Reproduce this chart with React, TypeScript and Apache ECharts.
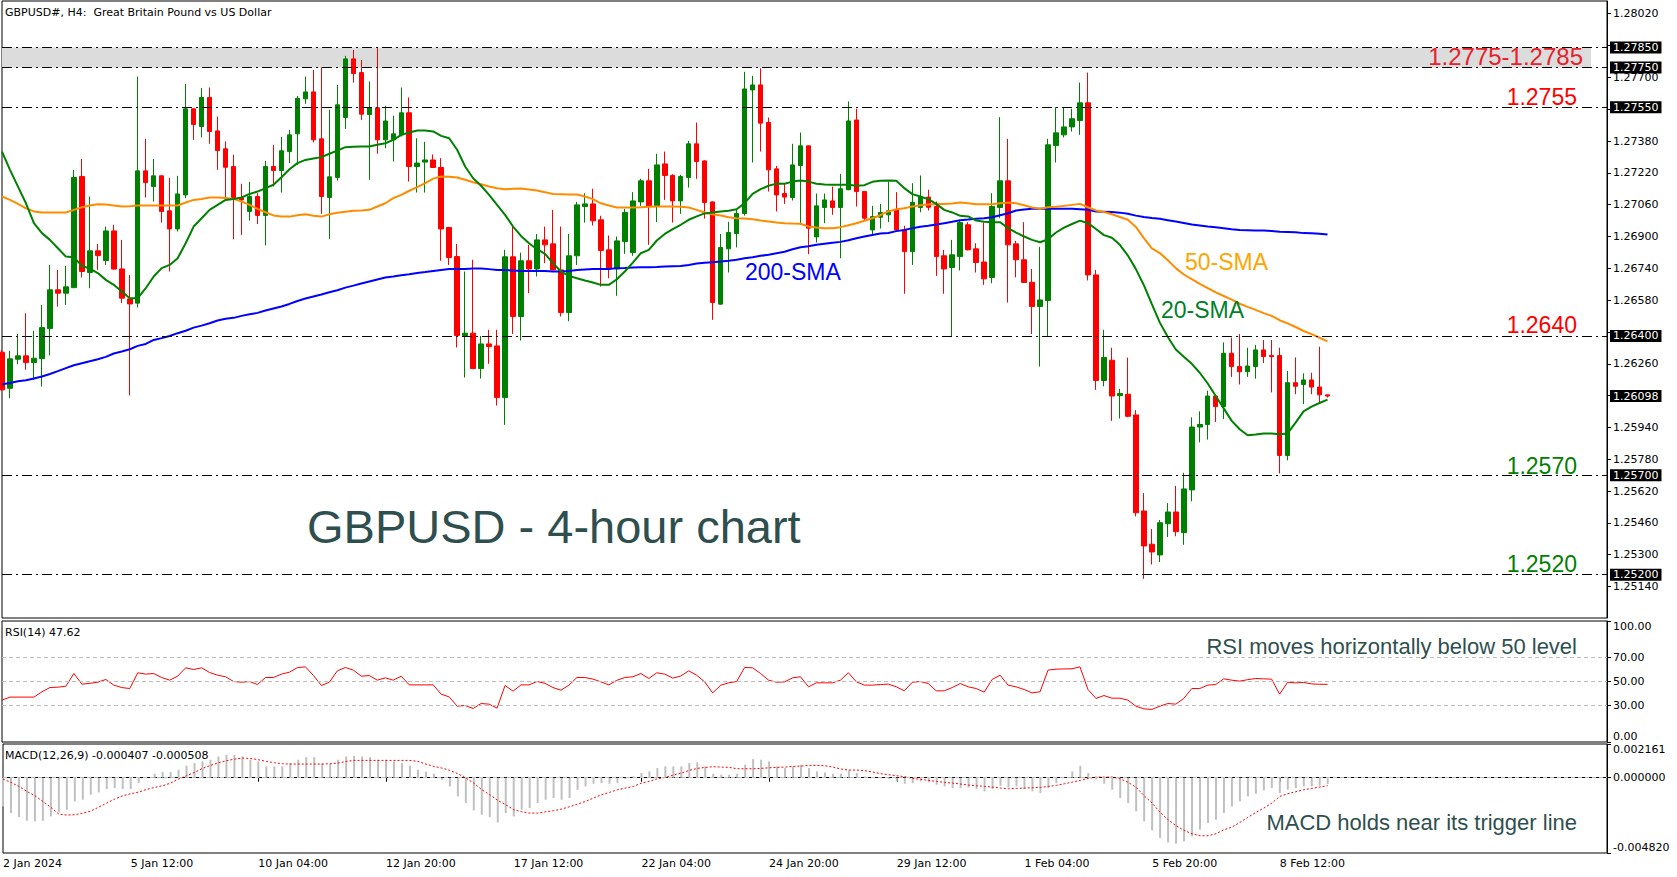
import React, { useEffect, useRef } from "react";
import * as echarts from "echarts";

// ---------------- data ----------------
const xTickLabels = ["2 Jan 2024", "5 Jan 12:00", "10 Jan 04:00", "12 Jan 20:00", "17 Jan 12:00", "22 Jan 04:00", "24 Jan 20:00", "29 Jan 12:00", "1 Feb 04:00", "5 Feb 20:00", "8 Feb 12:00"];
const barsPerTickLabel = 16;
const slotCount = 202; // bar slots visible on the chart (including the empty right margin)

const opens = [1.26318,1.26137,1.26283,1.26300,1.26266,1.26286,1.26437,1.26632,1.26615,1.26643,
1.27202,1.26719,1.26828,1.26779,1.26928,1.26737,1.26586,1.26565,1.27230,1.27151,
1.27205,1.27029,1.26938,1.27109,1.27542,1.27453,1.27599,1.27431,1.27341,1.27252,
1.27093,1.27026,1.27101,1.27006,1.27252,1.27232,1.27327,1.27416,1.27592,1.27627,
1.27391,1.27096,1.27197,1.27498,1.27793,1.27724,1.27513,1.27547,1.27386,1.27386,
1.27411,1.27522,1.27252,1.27274,1.27285,1.27247,1.26945,1.26799,1.26402,1.26414,
1.26236,1.26360,1.26350,1.26090,1.26798,1.26498,1.26778,1.26737,1.26883,1.26863,
1.26732,1.26518,1.26803,1.27051,1.27064,1.26984,1.26833,1.26737,1.26875,1.26819,
1.27074,1.27180,1.27051,1.27265,1.27207,1.27079,1.27197,1.27366,1.27280,1.27074,
1.26560,1.26838,1.26915,1.27016,1.27637,1.27662,1.27473,1.27240,1.27116,1.27096,
1.27257,1.27356,1.26898,1.27046,1.27079,1.27046,1.27135,1.27486,1.27126,1.26933,
1.26997,1.27009,1.27034,1.26933,1.26824,1.27046,1.27098,1.27051,1.26803,1.26744,
1.26799,1.26959,1.26838,1.26772,1.26694,1.27046,1.27180,1.26863,1.26783,1.26670,
1.26548,1.26578,1.27357,1.27411,1.27451,1.27483,1.27572,1.26707,1.26176,1.26278,
1.26100,1.26107,1.26003,1.25520,1.25353,1.25299,1.25456,1.25515,1.25411,1.25626,
1.25942,1.25955,1.26098,1.26045,1.26313,1.26246,1.26220,1.26246,1.26330,1.26302,
1.26302,1.25799,1.26165,1.26156,1.26179,1.26143,1.26104];
const highs = [1.26330,1.26325,1.26410,1.26514,1.26426,1.26556,1.26757,1.26732,1.26752,1.27235,
1.27290,1.27101,1.26863,1.26950,1.26959,1.26883,1.26707,1.27704,1.27391,1.27290,
1.27208,1.27195,1.27205,1.27667,1.27545,1.27646,1.27649,1.27503,1.27378,1.27311,
1.27165,1.27175,1.27118,1.27280,1.27361,1.27401,1.27436,1.27607,1.27704,1.27738,
1.27751,1.27537,1.27662,1.27808,1.27838,1.27788,1.27679,1.27847,1.27557,1.27507,
1.27649,1.27599,1.27394,1.27376,1.27312,1.27294,1.26948,1.26863,1.26724,1.26783,
1.26400,1.26431,1.26431,1.26833,1.26954,1.26819,1.26858,1.26913,1.26950,1.27034,
1.26950,1.26913,1.27074,1.27118,1.27140,1.27004,1.26905,1.26900,1.27039,1.27123,
1.27190,1.27240,1.27316,1.27327,1.27213,1.27210,1.27381,1.27473,1.27283,1.27077,
1.26913,1.26974,1.27034,1.27728,1.27708,1.27746,1.27498,1.27255,1.27163,1.27366,
1.27423,1.27358,1.27116,1.27116,1.27151,1.27215,1.27579,1.27542,1.27128,1.27054,
1.27064,1.27176,1.27123,1.26954,1.27168,1.27207,1.27135,1.27076,1.26833,1.26883,
1.26984,1.26972,1.26866,1.26970,1.27118,1.27500,1.27391,1.26878,1.26972,1.26737,
1.26848,1.27391,1.27550,1.27550,1.27542,1.27674,1.27724,1.26732,1.26431,1.26341,
1.26134,1.26291,1.26027,1.25610,1.25429,1.25475,1.25560,1.25646,1.25712,1.25991,
1.26021,1.26125,1.26100,1.26368,1.26391,1.26409,1.26341,1.26355,1.26380,1.26380,
1.26341,1.26224,1.26292,1.26212,1.26215,1.26346,1.26104];
const lows = [1.26126,1.26087,1.26258,1.26230,1.26179,1.26146,1.26302,1.26548,1.26556,1.26640,
1.26694,1.26640,1.26732,1.26757,1.26734,1.26565,1.26101,1.26543,1.27096,1.27076,
1.26970,1.26724,1.26925,1.27093,1.27386,1.27398,1.27366,1.27235,1.27081,1.26886,
1.26908,1.26980,1.26963,1.26855,1.27151,1.27121,1.27269,1.27260,1.27567,1.27373,
1.27014,1.26888,1.27181,1.27441,1.27674,1.27486,1.27185,1.27316,1.27344,1.27277,
1.27403,1.27176,1.27121,1.27121,1.27245,1.26778,1.26757,1.26342,1.26191,1.26233,
1.26186,1.26260,1.26050,1.25953,1.26410,1.26377,1.26615,1.26699,1.26766,1.26730,
1.26498,1.26474,1.26757,1.26970,1.26955,1.26648,1.26690,1.26602,1.26813,1.26803,
1.27054,1.26858,1.26972,1.27084,1.26970,1.27014,1.27146,1.27190,1.26990,1.26481,
1.26557,1.26719,1.26845,1.27005,1.27272,1.27327,1.27126,1.27026,1.27064,1.27081,
1.26959,1.26811,1.26870,1.26967,1.27009,1.26791,1.27133,1.27051,1.26980,1.26905,
1.26940,1.26972,1.26930,1.26612,1.26757,1.27022,1.27031,1.26702,1.26612,1.26394,
1.26729,1.26830,1.26719,1.26657,1.26665,1.26992,1.26568,1.26695,1.26667,1.26410,
1.26246,1.26400,1.27272,1.27398,1.27428,1.27411,1.26679,1.26129,1.26147,1.25973,
1.25985,1.25991,1.25493,1.25179,1.25251,1.25263,1.25389,1.25393,1.25350,1.25569,
1.25865,1.25879,1.25967,1.25982,1.26194,1.26156,1.26194,1.26185,1.26264,1.26116,
1.25709,1.25775,1.26107,1.26057,1.26107,1.26063,1.26090];
const closes = [1.26129,1.26285,1.26300,1.26266,1.26288,1.26442,1.26632,1.26615,1.26647,1.27197,
1.26724,1.26828,1.26804,1.26928,1.26736,1.26590,1.26561,1.27230,1.27171,1.27205,
1.27026,1.26938,1.27114,1.27542,1.27463,1.27599,1.27428,1.27332,1.27248,1.27096,
1.27084,1.27101,1.27006,1.27252,1.27232,1.27331,1.27411,1.27595,1.27627,1.27386,
1.27101,1.27200,1.27562,1.27793,1.27719,1.27515,1.27547,1.27386,1.27481,1.27416,
1.27522,1.27252,1.27269,1.27285,1.27247,1.26938,1.26794,1.26402,1.26414,1.26236,
1.26360,1.26347,1.26090,1.26798,1.26498,1.26778,1.26737,1.26883,1.26858,1.26732,
1.26518,1.26803,1.27059,1.27064,1.26979,1.26830,1.26737,1.26878,1.27021,1.27079,
1.27180,1.27051,1.27260,1.27207,1.27079,1.27202,1.27366,1.27277,1.27071,1.26568,
1.26845,1.26920,1.27016,1.27642,1.27662,1.27470,1.27235,1.27109,1.27098,1.27260,
1.27356,1.26942,1.27054,1.27084,1.27046,1.27140,1.27481,1.27126,1.26992,1.27000,
1.27021,1.27029,1.26933,1.26824,1.27072,1.27098,1.27047,1.26799,1.26737,1.26808,
1.26970,1.26833,1.26769,1.26687,1.27051,1.27180,1.26858,1.26783,1.26669,1.26548,
1.26581,1.27361,1.27421,1.27451,1.27492,1.27572,1.26707,1.26176,1.26292,1.26098,
1.26111,1.25996,1.25511,1.25344,1.25314,1.25461,1.25515,1.25416,1.25631,1.25942,
1.25955,1.26098,1.26045,1.26313,1.26246,1.26220,1.26249,1.26330,1.26296,1.26296,
1.25799,1.26165,1.26147,1.26179,1.26143,1.26104,1.26098];

const sma20 = [1.27327,1.27235,1.27151,1.27067,1.26967,1.26917,1.26883,1.26841,1.26799,1.26796,
1.26752,1.26739,1.26716,1.26682,1.26657,1.26623,1.26590,1.26590,1.26640,1.26699,
1.26741,1.26757,1.26791,1.26866,1.26950,1.26992,1.27034,1.27059,1.27084,1.27089,
1.27096,1.27114,1.27126,1.27143,1.27160,1.27198,1.27238,1.27269,1.27285,1.27292,
1.27299,1.27316,1.27332,1.27349,1.27351,1.27352,1.27352,1.27361,1.27369,1.27386,
1.27411,1.27423,1.27433,1.27433,1.27428,1.27406,1.27394,1.27336,1.27252,1.27193,
1.27155,1.27109,1.27059,1.27009,1.26950,1.26903,1.26866,1.26836,1.26813,1.26766,
1.26724,1.26702,1.26690,1.26679,1.26669,1.26657,1.26657,1.26685,1.26724,1.26769,
1.26816,1.26833,1.26880,1.26913,1.26937,1.26959,1.26984,1.27001,1.27016,1.27021,
1.27026,1.27029,1.27037,1.27068,1.27114,1.27138,1.27155,1.27166,1.27165,1.27176,
1.27181,1.27176,1.27165,1.27161,1.27160,1.27160,1.27160,1.27155,1.27158,1.27175,
1.27180,1.27181,1.27180,1.27143,1.27113,1.27101,1.27088,1.27064,1.27034,1.27021,
1.27004,1.27001,1.26980,1.26974,1.26972,1.26972,1.26942,1.26920,1.26900,1.26883,
1.26871,1.26886,1.26920,1.26945,1.26963,1.26980,1.26967,1.26938,1.26907,1.26894,
1.26858,1.26804,1.26736,1.26655,1.26560,1.26467,1.26395,1.26332,1.26296,1.26260,
1.26215,1.26161,1.26098,1.26036,1.25973,1.25931,1.25901,1.25904,1.25910,1.25910,
1.25906,1.25910,1.25964,1.26021,1.26045,1.26063,1.26080];
const sma50 = [1.27101,1.27084,1.27064,1.27042,1.27026,1.27021,1.27021,1.27021,1.27021,1.27034,
1.27047,1.27056,1.27062,1.27061,1.27056,1.27051,1.27052,1.27056,1.27056,1.27056,
1.27056,1.27056,1.27056,1.27071,1.27084,1.27089,1.27096,1.27096,1.27093,1.27089,
1.27076,1.27059,1.27039,1.27022,1.27006,1.27000,1.27000,1.27007,1.27012,1.27004,
1.27000,1.27012,1.27019,1.27024,1.27029,1.27031,1.27034,1.27051,1.27067,1.27093,
1.27109,1.27130,1.27148,1.27168,1.27191,1.27202,1.27200,1.27197,1.27185,1.27173,
1.27163,1.27151,1.27143,1.27138,1.27140,1.27141,1.27136,1.27131,1.27123,1.27114,
1.27113,1.27111,1.27111,1.27101,1.27088,1.27067,1.27056,1.27046,1.27046,1.27046,
1.27047,1.27049,1.27051,1.27051,1.27051,1.27049,1.27046,1.27034,1.27021,1.27012,
1.27006,1.26997,1.26992,1.26990,1.26987,1.26980,1.26975,1.26970,1.26967,1.26965,
1.26964,1.26950,1.26945,1.26942,1.26942,1.26947,1.26957,1.26967,1.26979,1.26992,
1.27007,1.27026,1.27037,1.27042,1.27051,1.27057,1.27061,1.27064,1.27064,1.27066,
1.27071,1.27067,1.27062,1.27062,1.27062,1.27067,1.27071,1.27067,1.27057,1.27046,
1.27039,1.27047,1.27049,1.27054,1.27059,1.27064,1.27047,1.27031,1.27023,1.27012,
1.26998,1.26984,1.26948,1.26892,1.26840,1.26817,1.26781,1.26741,1.26709,1.26686,
1.26662,1.26641,1.26619,1.26601,1.26583,1.26562,1.26546,1.26531,1.26515,1.26501,
1.26479,1.26463,1.26445,1.26425,1.26409,1.26391,1.26373];
const sma200 = [1.26157,1.26164,1.26172,1.26177,1.26186,1.26196,1.26209,1.26223,1.26238,1.26253,
1.26263,1.26273,1.26283,1.26295,1.26312,1.26322,1.26333,1.26350,1.26360,1.26380,
1.26389,1.26400,1.26414,1.26426,1.26442,1.26452,1.26464,1.26478,1.26486,1.26491,
1.26501,1.26509,1.26516,1.26528,1.26538,1.26548,1.26561,1.26576,1.26588,1.26598,
1.26608,1.26620,1.26630,1.26643,1.26653,1.26664,1.26674,1.26684,1.26694,1.26699,
1.26705,1.26710,1.26716,1.26721,1.26727,1.26732,1.26737,1.26737,1.26737,1.26739,
1.26739,1.26736,1.26732,1.26731,1.26729,1.26727,1.26727,1.26726,1.26726,1.26724,
1.26724,1.26726,1.26731,1.26734,1.26736,1.26737,1.26737,1.26741,1.26742,1.26744,
1.26746,1.26746,1.26747,1.26749,1.26751,1.26752,1.26757,1.26764,1.26768,1.26771,
1.26774,1.26778,1.26783,1.26791,1.26796,1.26803,1.26808,1.26816,1.26823,1.26836,
1.26846,1.26851,1.26858,1.26863,1.26868,1.26873,1.26881,1.26891,1.26900,1.26908,
1.26915,1.26918,1.26927,1.26933,1.26942,1.26949,1.26954,1.26960,1.26967,1.26974,
1.26982,1.26985,1.26989,1.26992,1.26997,1.27007,1.27017,1.27031,1.27036,1.27039,
1.27039,1.27039,1.27039,1.27039,1.27039,1.27037,1.27034,1.27026,1.27025,1.27023,
1.27020,1.27014,1.27005,1.26998,1.26993,1.26989,1.26982,1.26975,1.26968,1.26960,
1.26955,1.26950,1.26946,1.26942,1.26937,1.26933,1.26932,1.26930,1.26930,1.26928,
1.26924,1.26923,1.26921,1.26917,1.26916,1.26914,1.26910];

const rsi14 = [34.6,37.1,37.1,37.1,37.1,41.5,45.0,45.3,46.1,56.6,
47.8,48.5,49.4,51.7,47.0,45.0,44.2,57.2,56.1,56.6,
53.3,51.1,54.4,61.3,59.9,61.3,57.4,55.2,53.9,50.0,
49.4,50.0,47.5,53.3,53.3,56.1,57.7,61.5,62.1,55.0,
46.7,49.4,58.8,61.6,59.4,54.4,54.9,51.1,53.0,51.1,
54.4,47.2,47.2,47.2,47.2,39.5,37.3,29.6,30.2,27.7,
31.8,31.3,28.0,46.7,42.0,47.2,47.2,50.0,48.5,45.0,
42.8,47.0,53.3,53.3,52.0,49.7,47.2,51.0,53.3,53.9,
56.6,52.5,57.2,56.1,52.8,54.5,58.8,55.2,49.7,40.6,
46.9,48.9,50.0,61.6,61.3,56.6,51.1,49.4,49.7,53.0,
53.9,45.6,48.9,48.9,48.9,51.1,57.2,49.7,47.0,47.0,
47.5,47.8,45.6,42.3,49.4,50.0,48.3,42.3,42.3,45.0,
48.3,45.6,44.2,41.2,51.7,55.2,47.0,45.6,43.4,40.6,
41.5,59.4,60.2,60.4,60.5,62.1,43.4,36.0,38.4,36.2,
36.2,34.6,29.6,27.4,26.9,29.6,31.8,31.3,36.0,44.2,
44.2,47.0,47.5,52.2,51.1,50.3,51.5,52.5,52.2,51.9,
39.5,49.4,48.9,49.2,48.0,47.7,47.62];

const macdMain = [-0.001836,-0.002263,-0.002519,-0.002754,-0.002797,-0.002754,-0.002476,-0.002220,-0.002049,-0.001516,
-0.001409,-0.001089,-0.000939,-0.000726,-0.000662,-0.000726,-0.000726,-0.000342,-0.000021,0.000256,
0.000363,0.000363,0.000512,0.000769,0.000939,0.001046,0.001153,0.001366,0.001473,0.001473,
0.001366,0.001153,0.001046,0.000726,0.000726,0.000726,0.000939,0.001153,0.001324,0.001324,
0.000939,0.000897,0.001153,0.001366,0.001409,0.001366,0.001324,0.001153,0.001153,0.001046,
0.000939,0.000769,0.000512,0.000384,0.000256,-0.000128,-0.000555,-0.001195,-0.001622,-0.002092,
-0.002370,-0.002519,-0.002861,-0.002263,-0.002476,-0.002049,-0.001943,-0.001622,-0.001409,-0.001302,
-0.001409,-0.001302,-0.000769,-0.000555,-0.000384,-0.000342,-0.000384,-0.000342,-0.000085,0.000085,
0.000299,0.000406,0.000619,0.000726,0.000726,0.000726,0.000939,0.000982,0.000726,0.000256,
0.000192,0.000192,0.000256,0.000833,0.001195,0.001153,0.001046,0.000726,0.000619,0.000726,
0.000833,0.000619,0.000406,0.000342,0.000256,0.000256,0.000470,0.000299,0.000085,0.000043,
-0.000043,-0.000085,-0.000235,-0.000384,-0.000342,-0.000235,-0.000299,-0.000448,-0.000555,-0.000662,
-0.000662,-0.000619,-0.000726,-0.000875,-0.000726,-0.000512,-0.000619,-0.000555,-0.000726,-0.000875,
-0.000982,-0.000662,-0.000342,-0.000021,0.000406,0.000769,0.000299,-0.000128,-0.000384,-0.000769,
-0.001302,-0.001622,-0.002156,-0.002797,-0.003373,-0.003864,-0.004142,-0.004227,-0.004077,-0.003757,
-0.003330,-0.002903,-0.002690,-0.002263,-0.001836,-0.001516,-0.001195,-0.001025,-0.000811,-0.000662,
-0.000982,-0.000769,-0.000662,-0.000555,-0.000555,-0.000512,-0.000407];
const macdSignal = [-0.000085,-0.000299,-0.000555,-0.000875,-0.001153,-0.001516,-0.001900,-0.002327,-0.002391,-0.002370,
-0.002263,-0.002135,-0.001879,-0.001622,-0.001366,-0.001153,-0.001025,-0.000918,-0.000747,-0.000619,
-0.000512,-0.000342,-0.000085,0.000128,0.000342,0.000598,0.000790,0.000961,0.001089,0.001195,
0.001260,0.001238,0.001153,0.001046,0.000961,0.000897,0.000875,0.000875,0.000875,0.000875,
0.000875,0.000897,0.000939,0.001046,0.001110,0.001110,0.001110,0.001110,0.001110,0.001110,
0.001110,0.001110,0.001046,0.000875,0.000726,0.000619,0.000470,0.000256,-0.000021,-0.000342,
-0.000769,-0.001089,-0.001452,-0.001729,-0.002049,-0.002177,-0.002263,-0.002263,-0.002177,-0.002113,
-0.002007,-0.001857,-0.001686,-0.001516,-0.001302,-0.001089,-0.000939,-0.000769,-0.000662,-0.000555,
-0.000342,-0.000235,-0.000064,0.000021,0.000171,0.000299,0.000470,0.000598,0.000662,0.000704,
0.000683,0.000662,0.000576,0.000576,0.000576,0.000598,0.000640,0.000662,0.000683,0.000726,
0.000747,0.000790,0.000790,0.000769,0.000683,0.000555,0.000491,0.000491,0.000448,0.000363,
0.000256,0.000192,0.000128,0.000064,-0.000043,-0.000107,-0.000171,-0.000235,-0.000299,-0.000342,
-0.000406,-0.000470,-0.000512,-0.000555,-0.000598,-0.000662,-0.000704,-0.000683,-0.000662,-0.000640,
-0.000619,-0.000555,-0.000491,-0.000384,-0.000278,-0.000171,-0.000043,0.000043,0.000043,0.000043,
-0.000064,-0.000299,-0.000619,-0.001153,-0.001622,-0.002220,-0.002690,-0.003074,-0.003373,-0.003586,
-0.003715,-0.003715,-0.003586,-0.003330,-0.003160,-0.002861,-0.002540,-0.002220,-0.001943,-0.001622,
-0.001195,-0.001025,-0.000897,-0.000769,-0.000683,-0.000598,-0.000508];

// price-axis ticks; the ones that sit under a level box only get a tick mark
const priceTicks = [1.2514, 1.2530, 1.2546, 1.2562, 1.2578, 1.2594, 1.2610, 1.2626, 1.2642, 1.2658, 1.2674, 1.2690, 1.2706, 1.2722, 1.2738, 1.2754, 1.2770, 1.2786, 1.2802];
const priceLabels = [1.2514, 1.2530, 1.2546, 1.2562, 1.2578, 1.2594, 1.2626, 1.2658, 1.2674, 1.2690, 1.2706, 1.2722, 1.2738, 1.2770, 1.2802];
const rsiTicks = [0, 30, 50, 70, 100];
const rsiLevels = [70, 50, 30];
const macdTicks = [-0.00482, 0, 0.002161];
const levelLines = [1.2785, 1.2775, 1.2755, 1.264, 1.257, 1.252];
const resistanceZone = [1.2775, 1.2785];
const lastPrice = 1.26098;
const priceRange = [1.24982, 1.28084];
const rsiRange = [0, 100];
const macdRange = [-0.00482, 0.002161];

const SMALL = "DejaVu Sans";
const BIG = '"Liberation Sans", Arial, sans-serif';

const annotations = [
  { text: "1.2775-1.2785", x: 1583, y: 56, color: "#e8202a", font: `24px ${BIG}`, align: "right" },
  { text: "1.2755", x: 1577, y: 97, color: "#ff0000", font: `23px ${BIG}`, align: "right" },
  { text: "1.2640", x: 1577, y: 325, color: "#ff0000", font: `23px ${BIG}`, align: "right" },
  { text: "1.2570", x: 1577, y: 466, color: "#008000", font: `23px ${BIG}`, align: "right" },
  { text: "1.2520", x: 1577, y: 564, color: "#008000", font: `23px ${BIG}`, align: "right" },
  { text: "200-SMA", x: 745, y: 272, color: "#0000ff", font: `23px ${BIG}`, align: "left" },
  { text: "50-SMA", x: 1185, y: 262, color: "#ffa500", font: `23px ${BIG}`, align: "left" },
  { text: "20-SMA", x: 1161, y: 310, color: "#007f2a", font: `23px ${BIG}`, align: "left" },
  { text: "GBPUSD - 4-hour chart", x: 307, y: 526, color: "#2f4f4f", font: `47px ${BIG}`, align: "left" },
  { text: "RSI moves horizontally below 50 level", x: 1577, y: 646, color: "#2f4f4f", font: `22px ${BIG}`, align: "right" },
  { text: "MACD holds near its trigger line", x: 1577, y: 822, color: "#2f4f4f", font: `22px ${BIG}`, align: "right" },
  { text: "GBPUSD#, H4:  Great Britain Pound vs US Dollar", x: 5, y: 12, color: "#000", font: `11px "${SMALL}"`, align: "left" },
  { text: "RSI(14) 47.62", x: 5, y: 632, color: "#000", font: `11px "${SMALL}"`, align: "left" },
  { text: "MACD(12,26,9) -0.000407 -0.000508", x: 5, y: 755, color: "#000", font: `11px "${SMALL}"`, align: "left" },
];

export default function App() {
  const ref = useRef<HTMLDivElement>(null);

  useEffect(() => {
    if (!ref.current) return;
    const chart = echarts.init(ref.current, null, { renderer: "svg" });
    const categories = Array.from({ length: slotCount }, (_, i) => String(i));
    const candles = opens.map((o, i) => [o, closes[i], lows[i], highs[i]]);
    const isTick = (index: number) => index % barsPerTickLabel === 0 && index / barsPerTickLabel < xTickLabels.length;

    const gridBase = { left: 2, width: 1605, show: true, borderColor: "#000", borderWidth: 1, backgroundColor: "transparent" };
    const hiddenX = (gridIndex: number) => ({
      type: "category", gridIndex, data: categories, boundaryGap: false,
      axisLine: { show: false }, axisTick: { show: false }, axisLabel: { show: false }, splitLine: { show: false },
    });
    const axisLabelBase = { color: "#000", fontFamily: SMALL, fontSize: 11, margin: 6 };
    const dashDot = [10, 4, 2, 4];
    const boxLabel = {
      show: true, position: "end", distance: 3, color: "#fff", backgroundColor: "#000",
      padding: [1, 3, 0, 3], fontFamily: SMALL, fontSize: 11,
      formatter: (p: any) => Number(p.value).toFixed(5),
    };

    const option: any = {
      animation: false,
      backgroundColor: "#fff",
      grid: [
        { ...gridBase, top: 1, height: 617 },
        { ...gridBase, top: 621, height: 121 },
        { ...gridBase, top: 744, height: 109 },
      ],
      xAxis: [
        hiddenX(0),
        hiddenX(1),
        {
          type: "category", gridIndex: 2, data: categories, boundaryGap: false,
          axisLine: { show: true, lineStyle: { color: "#000", width: 1 } },
          axisTick: { show: true, interval: (i: number) => isTick(i), length: 4, lineStyle: { color: "#000" } },
          axisLabel: {
            show: true, interval: (i: number) => isTick(i), align: "left", color: "#000", fontFamily: SMALL, fontSize: 11, margin: 5,
            formatter: (_v: string, i: number) => (isTick(i) ? xTickLabels[i / barsPerTickLabel] : ""),
          },
          splitLine: { show: false },
        },
      ],
      yAxis: [
        {
          type: "value", gridIndex: 0, position: "right", min: priceRange[0], max: priceRange[1],
          axisLine: { show: true, lineStyle: { color: "#000" } },
          axisTick: { show: true, customValues: priceTicks, length: 4, lineStyle: { color: "#000" } },
          axisLabel: { ...axisLabelBase, customValues: priceLabels, formatter: (v: number) => v.toFixed(5) },
          splitLine: { show: false },
        },
        {
          type: "value", gridIndex: 1, position: "right", min: rsiRange[0], max: rsiRange[1],
          axisLine: { show: true, lineStyle: { color: "#000" } },
          axisTick: { show: true, customValues: rsiTicks, length: 4, lineStyle: { color: "#000" } },
          axisLabel: { ...axisLabelBase, customValues: rsiTicks, formatter: (v: number) => v.toFixed(2), verticalAlignMinLabel: "bottom", verticalAlignMaxLabel: "top" },
          splitLine: { show: false },
        },
        {
          type: "value", gridIndex: 2, position: "right", min: macdRange[0], max: macdRange[1],
          axisLine: { show: true, lineStyle: { color: "#000" } },
          axisTick: { show: true, customValues: macdTicks, length: 4, lineStyle: { color: "#000" } },
          axisLabel: { ...axisLabelBase, customValues: macdTicks, formatter: (v: number) => v.toFixed(6), verticalAlignMinLabel: "bottom", verticalAlignMaxLabel: "top" },
          splitLine: { show: false },
        },
      ],
      series: [
        {
          type: "line", name: "levels", xAxisIndex: 0, yAxisIndex: 0, data: [], z: 1, silent: true,
          markArea: {
            silent: true,
            itemStyle: { color: "#dcdcdc" },
            data: [[{ xAxis: "0", yAxis: resistanceZone[1] }, { xAxis: "199", yAxis: resistanceZone[0] }]],
          },
        },
        {
          type: "line", name: "levelLines", xAxisIndex: 0, yAxisIndex: 0, data: [], z: 2, silent: true,
          markLine: {
            silent: true, symbol: ["none", "none"], animation: false, precision: 5,
            lineStyle: { color: "#000", width: 1, type: dashDot },
            label: boxLabel,
            data: levelLines.map((v) => ({ yAxis: v })),
          },
        },
        {
          type: "line", name: "lastPrice", xAxisIndex: 0, yAxisIndex: 0, data: [], z: 2, silent: true,
          markLine: {
            silent: true, symbol: ["none", "none"], animation: false, precision: 5,
            lineStyle: { color: "rgba(0,0,0,0)", width: 1, type: "solid" },
            label: boxLabel,
            data: [{ yAxis: lastPrice }],
          },
        },
        {
          type: "candlestick", name: "GBPUSD", xAxisIndex: 0, yAxisIndex: 0, data: candles, z: 3,
          barWidth: 5,
          itemStyle: { color: "#008000", color0: "#ff0000", borderColor: "#008000", borderColor0: "#ff0000", borderWidth: 1 },
        },
        { type: "line", name: "200-SMA", xAxisIndex: 0, yAxisIndex: 0, data: sma200, showSymbol: false, z: 4, lineStyle: { color: "#0000ff", width: 2 } },
        { type: "line", name: "50-SMA", xAxisIndex: 0, yAxisIndex: 0, data: sma50, showSymbol: false, z: 4, lineStyle: { color: "#ff8c00", width: 2 } },
        { type: "line", name: "20-SMA", xAxisIndex: 0, yAxisIndex: 0, data: sma20, showSymbol: false, z: 4, lineStyle: { color: "#008000", width: 2 } },
        {
          type: "line", name: "RSI", xAxisIndex: 1, yAxisIndex: 1, data: rsi14, showSymbol: false, z: 4,
          lineStyle: { color: "#ff0000", width: 1 },
          markLine: {
            silent: true, symbol: ["none", "none"], label: { show: false }, precision: 2,
            lineStyle: { color: "#c0c0c0", width: 1, type: [4, 3] },
            data: rsiLevels.map((v) => ({ yAxis: v })),
          },
        },
        {
          type: "bar", name: "MACD", xAxisIndex: 2, yAxisIndex: 2, data: macdMain, barWidth: 2, z: 3,
          itemStyle: { color: "#c0c0c0" },
          markLine: {
            silent: true, symbol: ["none", "none"], label: { show: false },
            lineStyle: { color: "#c0c0c0", width: 1, type: [4, 3] },
            data: [{ yAxis: 0 }],
          },
        },
        {
          type: "line", name: "Signal", xAxisIndex: 2, yAxisIndex: 2, data: macdSignal, showSymbol: false, z: 4,
          lineStyle: { color: "#ff0000", width: 1, type: [2, 2] },
        },
      ],
      graphic: annotations.map((a) => ({
        type: "text", x: a.x, y: a.y, z: 100, silent: true,
        style: { text: a.text, fill: a.color, font: a.font, align: a.align, verticalAlign: "middle" },
      })),
    };

    chart.setOption(option);
    return () => chart.dispose();
  }, []);

  return <div ref={ref} style={{ position: "absolute", left: 0, top: 0, width: 1677, height: 877, background: "#fff" }} />;
}
